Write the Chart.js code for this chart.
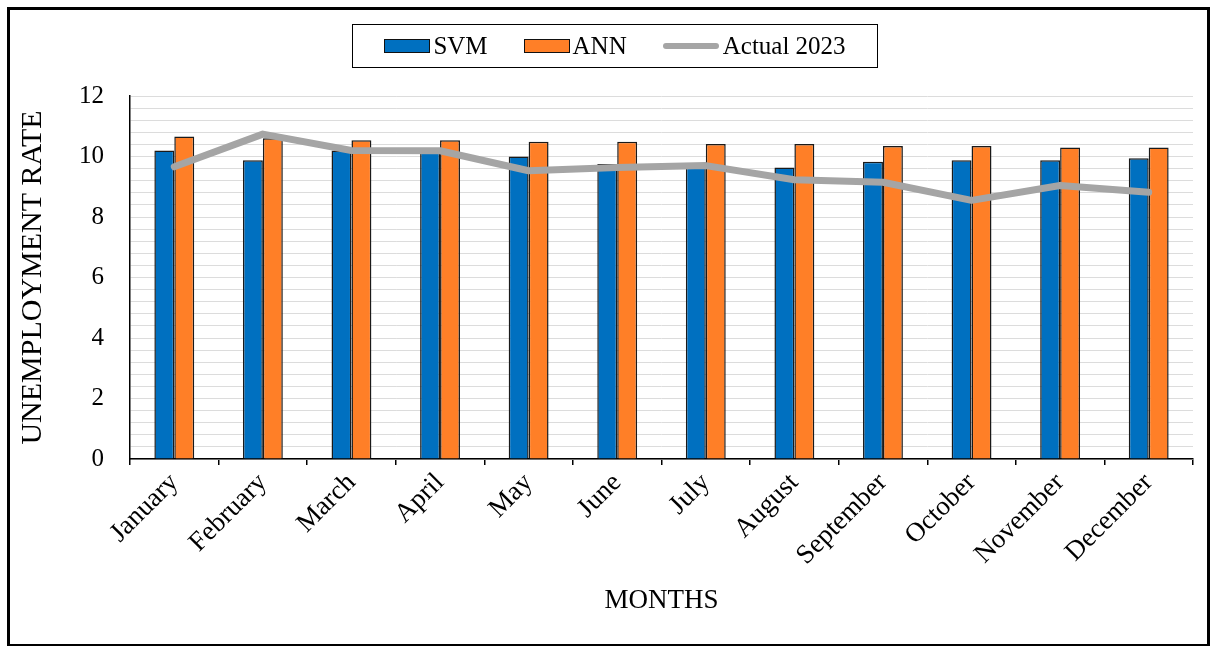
<!DOCTYPE html>
<html>
<head>
<meta charset="utf-8">
<script src="https://cdn.jsdelivr.net/npm/chart.js@4.4.0/dist/chart.umd.min.js"></script>
<style>
  html, body { margin: 0; padding: 0; background: #fff; }
  #wrap { position: relative; width: 1218px; height: 646px; overflow: hidden; }
  #frame { position: absolute; left: 7px; top: 7px; width: 1203px; height: 640px;
           border: 3px solid #000; box-sizing: border-box; pointer-events: none; }
  #legend { position: absolute; left: 352px; top: 24px; width: 526px; height: 44px;
            border: 1.5px solid #000; box-sizing: border-box; display: flex;
            align-items: center; justify-content: center;
            font-family: 'Liberation Serif', 'Times New Roman', serif; font-size: 25px; color: #000; }
  .item { display: flex; align-items: center; margin: 0 18px; }
  .swatch { width: 44px; height: 12px; border: 1px solid #111; margin-right: 3px; }
  .lineSw { width: 56px; height: 6px; border-radius: 3px; margin-right: 4px; }
</style>
</head>
<body>
<div id="wrap">
  <canvas id="chart" width="1218" height="646"></canvas>
  <div id="legend"></div>
  <div id="frame"></div>
</div>
<script>
const months = ['January', 'February', 'March', 'April', 'May', 'June', 'July',
                'August', 'September', 'October', 'November', 'December'];
const svm = [10.2, 9.88, 10.2, 10.2, 10.0, 9.75, 9.78, 9.64, 9.83, 9.88, 9.88, 9.94];
const ann = [10.66, 10.6, 10.54, 10.54, 10.49, 10.49, 10.41, 10.41, 10.35, 10.35, 10.3, 10.3];
const actual2023 = [9.66, 10.74, 10.2, 10.19, 9.53, 9.64, 9.7, 9.23, 9.15, 8.55, 9.04, 8.82];
const yTickLabels = [0, 2, 4, 6, 8, 10, 12];

const serif = "'Liberation Serif', 'Times New Roman', serif";

const datasets = [
  { type: 'line', label: 'Actual 2023', data: actual2023, borderColor: '#A5A5A5',
    backgroundColor: '#A5A5A5', borderWidth: 7, pointRadius: 0, tension: 0, order: 0,
    borderCapStyle: 'round', borderJoinStyle: 'round' },
  { type: 'bar', label: 'SVM', data: svm, backgroundColor: '#0070C0',
    borderColor: '#1a1a1a', borderWidth: 1.5, order: 1 },
  { type: 'bar', label: 'ANN', data: ann, backgroundColor: '#FF7F27',
    borderColor: '#1a1a1a', borderWidth: 1.5, order: 1 }
];

// html legend in the order of the reference
const legend = document.getElementById('legend');
['SVM', 'ANN', 'Actual 2023'].forEach(name => {
  const ds = datasets.find(d => d.label === name);
  const item = document.createElement('div');
  item.className = 'item';
  const sw = document.createElement('span');
  if (ds.type === 'line') {
    sw.className = 'lineSw';
    sw.style.background = ds.borderColor;
  } else {
    sw.className = 'swatch';
    sw.style.background = ds.backgroundColor;
  }
  item.appendChild(sw);
  item.appendChild(document.createTextNode(name));
  legend.appendChild(item);
});

new Chart(document.getElementById('chart'), {
  data: { labels: months, datasets: datasets },
  options: {
    responsive: false,
    animation: false,
    layout: { padding: { top: 96, left: 15, right: 25, bottom: 29 } },
    datasets: { bar: { categoryPercentage: 0.45, barPercentage: 1.0 } },
    plugins: { legend: { display: false }, tooltip: { enabled: false } },
    scales: {
      x: {
        offset: true,
        grid: { drawOnChartArea: false, drawTicks: true, tickLength: 6, color: '#000', lineWidth: 1.5 },
        border: { color: '#000', width: 1.5 },
        ticks: { color: '#000', font: { family: serif, size: 27 }, minRotation: 45, maxRotation: 45, padding: 2, autoSkip: false },
        title: { display: true, text: 'MONTHS', color: '#000', font: { family: serif, size: 27 }, padding: { top: 11, bottom: 0 } }
      },
      y: {
        min: 0,
        max: 12,
        grid: { color: '#dcdcdc', lineWidth: 1, drawTicks: false },
        border: { color: '#000', width: 1.5 },
        ticks: {
          stepSize: 0.4,
          autoSkip: false,
          padding: 26,
          color: '#000',
          font: { family: serif, size: 25 },
          callback: v => {
            const hit = yTickLabels.find(t => Math.abs(t - v) < 1e-6);
            return hit === undefined ? '' : String(hit);
          }
        },
        title: { display: true, text: 'UNEMPLOYMENT RATE', color: '#000', font: { family: serif, size: 30 }, padding: { top: 0, bottom: 2 } }
      }
    }
  }
});
</script>
</body>
</html>
